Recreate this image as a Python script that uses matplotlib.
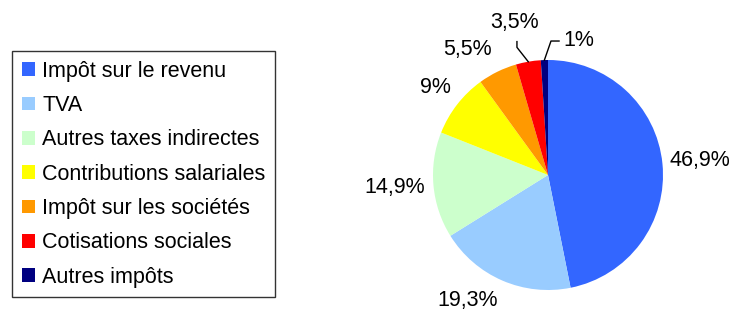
import numpy as np
import matplotlib
matplotlib.use("Agg")
import matplotlib.pyplot as plt

plt.rcParams['font.family'] = ['Liberation Sans', 'DejaVu Sans']

categories = ["Impôt sur le revenu", "TVA", "Autres taxes indirectes",
              "Contributions salariales", "Impôt sur les sociétés",
              "Cotisations sociales", "Autres impôts"]
values = [46.9, 19.3, 14.9, 9, 5.5, 3.5, 1]
colors = ["#3366FF", "#99CCFF", "#CCFFCC", "#FFFF00", "#FF9900", "#FF0000", "#000080"]

def fmt(v):
    s = ("%g" % v).replace(".", ",")
    return s + "%"

W, H = 733, 312
fig = plt.figure(figsize=(W / 100, H / 100), dpi=100)

# pie centre (548, 175) px, radius 115 px
R = 115
cx, cy = 548, H - 175
a = 1.4
side = 2 * a * R
ax = fig.add_axes([(cx - side / 2) / W, (cy - side / 2) / H, side / W, side / H])

wedges, texts = ax.pie(values, colors=colors, startangle=90, counterclock=False,
                       labels=[fmt(v) for v in values], labeldistance=1.3,
                       textprops=dict(fontsize=15.5, ha='center', va='center'),
                       wedgeprops=dict(linewidth=0))
ax.set_xlim(-a, a)
ax.set_ylim(-a, a)
ax.axis('off')

# label placement (in pie-radius units), like the spreadsheet layout
label_pos = [(1.32, 0.13), (-0.70, -1.09), (-1.33, -0.11), (-0.98, 0.76),
             (-0.70, 1.09), (-0.29, 1.33), (0.13, 1.17)]
for t, p in zip(texts, label_pos):
    t.set_position(p)
    t.set_ha('center')
texts[6].set_ha('left')

def edge_point(w):
    th = np.radians((w.theta1 + w.theta2) / 2)
    return np.cos(th), np.sin(th)

# leader lines for the two thin slices
x0, y0 = edge_point(wedges[5])
ax.plot([x0, -0.27, -0.27], [y0, 1.11, 1.16], color='black', lw=1)
x0, y0 = edge_point(wedges[6])
ax.plot([x0, 0.026, 0.096], [y0, 1.165, 1.165], color='black', lw=1)

leg = fig.legend(wedges, categories, loc='upper left',
                 bbox_to_anchor=(12 / W, 1 - 51 / H), fontsize=15.5,
                 frameon=True, fancybox=False, shadow=False,
                 handlelength=0.6, handleheight=0.6, handletextpad=0.35,
                 labelspacing=0.62, borderpad=0.45, borderaxespad=0)
leg.get_frame().set_edgecolor('black')
leg.get_frame().set_linewidth(1)

fig.savefig("out.png", dpi=100)
